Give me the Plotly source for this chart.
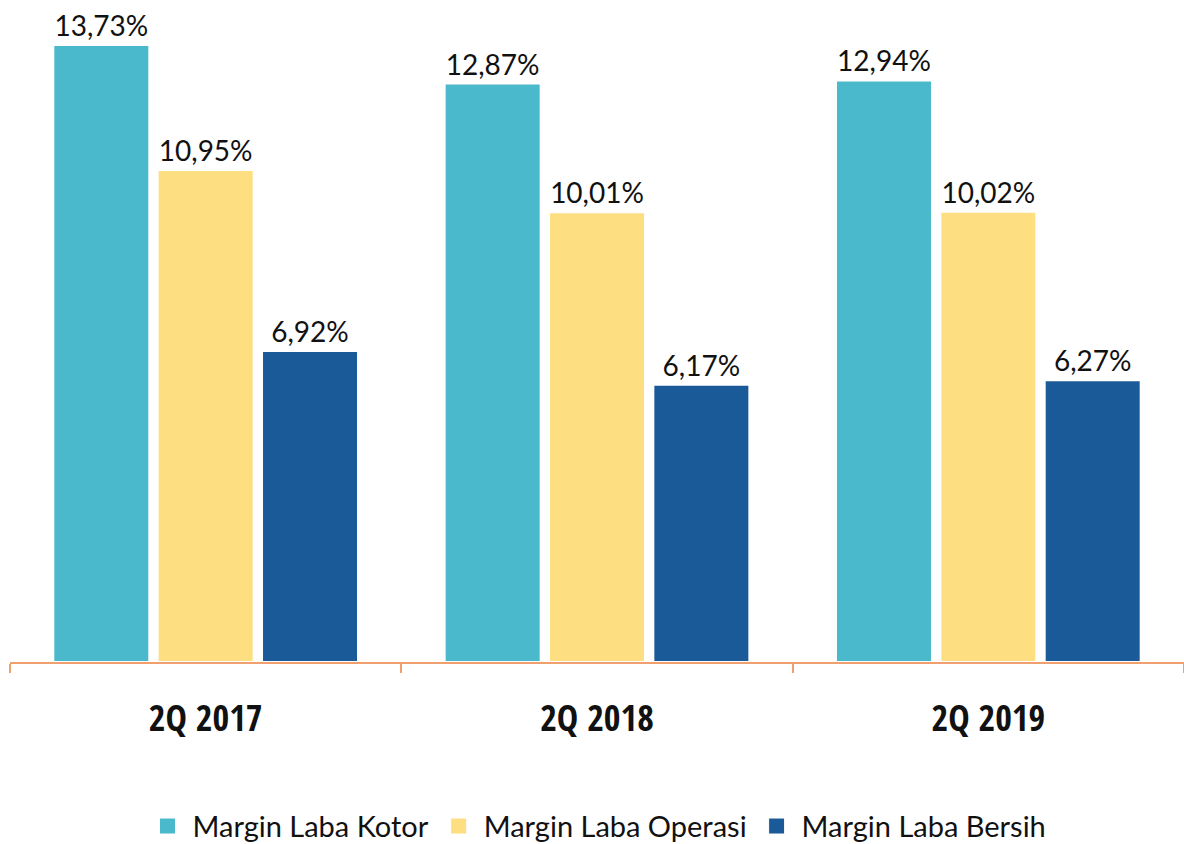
import plotly.graph_objects as go

categories = ["2Q 2017", "2Q 2018", "2Q 2019"]
kotor = [13.73, 12.87, 12.94]
operasi = [10.95, 10.01, 10.02]
bersih = [6.92, 6.17, 6.27]
series_names = ["Margin Laba Kotor", "Margin Laba Operasi", "Margin Laba Bersih"]
colors = ["#4BB9CC", "#FDDE80", "#1B5A99"]

def fmt(v):
    return f"{v:.2f}".replace(".", ",") + "%"

fig = go.Figure()
for name, vals, col in zip(series_names, [kotor, operasi, bersih], colors):
    fig.add_trace(go.Bar(
        x=categories, y=vals, name=name, showlegend=False,
        marker=dict(color=col, line=dict(color="white", width=2)),
        text=[fmt(v) for v in vals], textposition="outside",
        textfont=dict(family="Lato, sans-serif", size=28, color="#111111"),
        cliponaxis=False,
    ))
for name, col in zip(series_names, colors):
    fig.add_trace(go.Scatter(
        x=[None], y=[None], mode="markers", name=name,
        marker=dict(symbol="square", size=24, color=col, line=dict(color="white", width=1)),
    ))

tickfont = dict(family="Open Sans Condensed, Roboto Condensed, Open Sans, sans-serif", size=36, color="#111111")

fig.update_layout(
    width=1184, height=844,
    margin=dict(l=10, r=0, t=0, b=182, autoexpand=False),
    paper_bgcolor="white", plot_bgcolor="white",
    barmode="group", bargap=0.2, bargroupgap=0.08,
    showlegend=True,
    legend=dict(orientation="h", x=0.5, xanchor="center", y=-0.248, yanchor="middle",
                font=dict(family="Lato, sans-serif", size=29, color="#111111"),
                itemsizing="trace", traceorder="normal", itemwidth=40),
    xaxis=dict(showline=True, linecolor="#F0A06E", linewidth=2, ticks="outside", tickson="boundaries",
               tickcolor="#F0A06E", ticklen=9, tickwidth=2, showgrid=False, automargin=False,
               tickfont=tickfont,
               ticklabelstandoff=24, range=[-0.5, 2.5]),
    yaxis=dict(range=[0, 14.73], visible=False, showgrid=False, automargin=False),
)

fig.write_html("out.html", config={"displayModeBar": False},
               post_script="document.body.style.margin='0';")
